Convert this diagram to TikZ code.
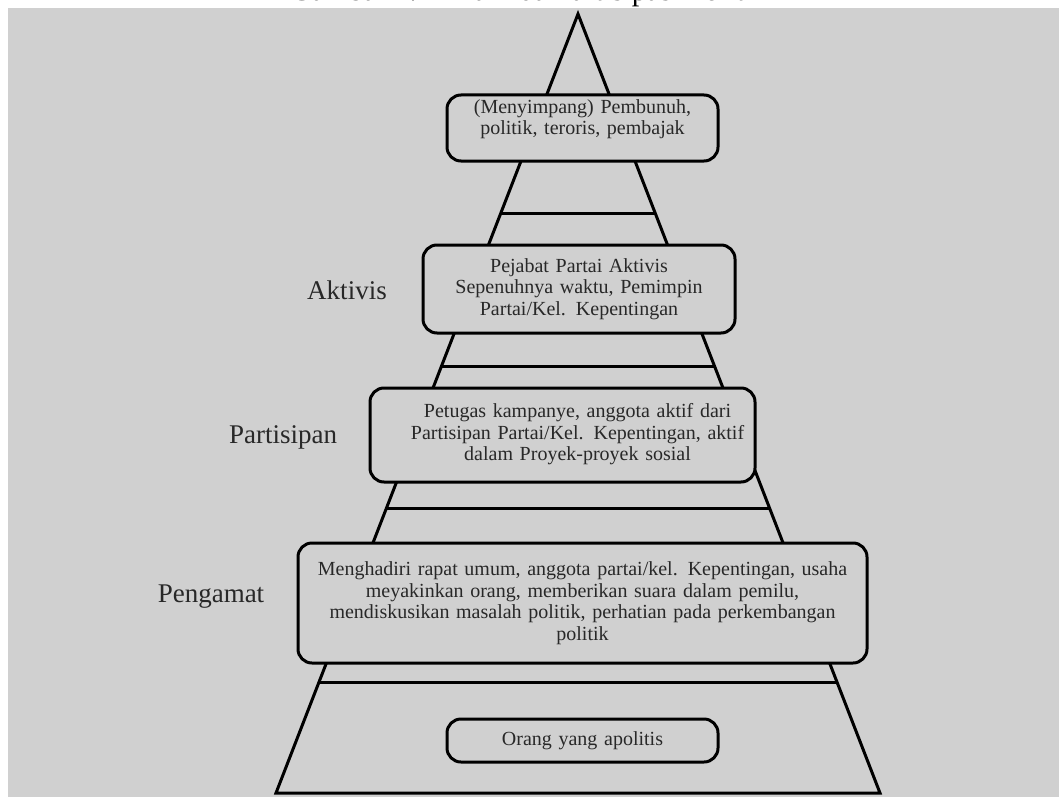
\documentclass[tikz,border=0pt]{standalone}
\usepackage{fontspec}
\setmainfont{Liberation Serif}
\usetikzlibrary{calc}
\definecolor{bggray}{RGB}{208,208,208}
\definecolor{inkgray}{RGB}{40,40,40}

\begin{document}
\begin{tikzpicture}[x=1pt,y=-1pt,
  tier/.style={rectangle,rounded corners=14pt,draw=black,line width=3pt,fill=bggray,
    text=inkgray,align=center,inner sep=0pt,font=\fontsize{20}{21.5}\selectfont},
  side/.style={text=inkgray,font=\fontsize{27}{30}\selectfont},
  rung/.style={line width=3pt}]
\useasboundingbox (0,0) rectangle (1059,797);
\fill[bggray] (8,8) rectangle (1059,797);
\path (529,0.5) node[anchor=base,font=\fontsize{30}{32}\selectfont] (title) {Gambar 2.1 Piramida Partisipasi Politik};

% pyramid outline
\coordinate (top) at (578,14);
\coordinate (bl) at (276,793);
\coordinate (br) at (880,793);
\draw[line width=3pt] (bl) -- (top) -- (br) -- cycle;
\foreach \t in {0.2555,0.4519,0.6342,0.8575}
  \draw[rung] ($(top)!\t!(bl)$) -- ($(top)!\t!(br)$);

% tiers
\path (582.5,128) node[tier,minimum width=271pt,minimum height=66pt,text width=260pt] (deviant)
  {(Menyimpang) Pembunuh,\\ politik, teroris, pembajak\\ \mbox{}};
\path (579,289) node[tier,minimum width=312pt,minimum height=88pt,text width=300pt] (activist)
  {Pejabat Partai Aktivis\\ Sepenuhnya waktu, Pemimpin\\ Partai/Kel. Kepentingan};
\path (562.5,435) node[tier,minimum width=385pt,minimum height=94pt,text width=370pt] (particip)
  {\hspace*{30pt}\begin{tabular}{@{}c@{}}Petugas kampanye, anggota aktif dari\\ Partisipan Partai/Kel. Kepentingan, aktif\\ dalam Proyek-proyek sosial\end{tabular}};
\path (582.5,603) node[tier,minimum width=569pt,minimum height=120pt,text width=550pt] (observer)
  {Menghadiri rapat umum, anggota partai/kel. Kepentingan, usaha\\ meyakinkan orang, memberikan suara dalam pemilu,\\ mendiskusikan masalah politik, perhatian pada perkembangan\\ politik};
\path (582.5,740.5) node[tier,minimum width=271pt,minimum height=43pt,text width=260pt] (apolitic)
  {Orang yang apolitis};

% side labels
\path (347,290) node[side] (lactivist) {Aktivis};
\path (283,437) node[side] (lparticip) {Partisipan};
\path (211,597) node[side] (lobserver) {Pengamat};
\end{tikzpicture}
\end{document}
